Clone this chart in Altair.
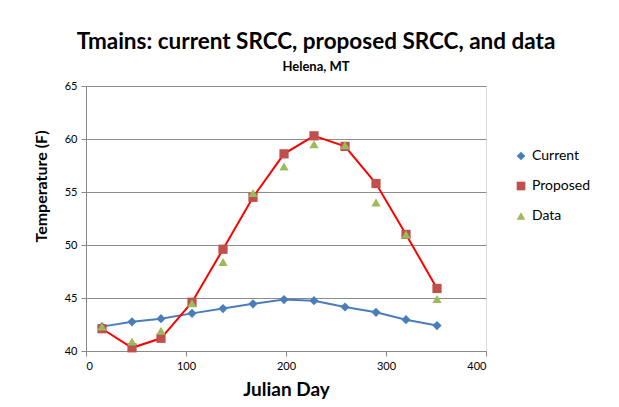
import altair as alt
import pandas as pd

days = [16, 46, 75, 106, 137, 167, 198, 228, 259, 290, 320, 351]
current = [42.3, 42.75, 43.05, 43.55, 44.0, 44.45, 44.85, 44.75, 44.15, 43.65, 42.95, 42.4]
proposed = [42.1, 40.3, 41.2, 44.6, 49.6, 54.5, 58.6, 60.3, 59.3, 55.8, 51.0, 45.9]
measured = [42.3, 40.9, 41.9, 44.5, 48.4, 54.9, 57.4, 59.5, 59.4, 54.0, 51.0, 44.9]

series_names = ["Current", "Proposed", "Data"]
marker_colors = ["#4A7EBB", "#C0504D", "#9BBB59"]
line_colors = ["#4A7EBB", "#FF0000"]
shapes = ["diamond", "square", "triangle-up"]

rows = []
for name, vals in zip(series_names, [current, proposed, measured]):
    for d, v in zip(days, vals):
        rows.append({"day": d, "temp": v, "series": name})
df = pd.DataFrame(rows)

FONT = "Lato"

x_enc = alt.X("day:Q", scale=alt.Scale(domain=[0, 400], nice=False),
              axis=alt.Axis(values=[0, 100, 200, 300, 400], title="Julian Day",
                            grid=False, titleFontSize=19, titleFont=FONT,
                            titleFontWeight="bold", titlePadding=9,
                            labelFontSize=11, labelFont=FONT, labelColor="#000",
                            domainColor="#888", tickColor="#888", tickSize=5,
                            labelPadding=4, titleColor="#000"))
y_enc = alt.Y("temp:Q", scale=alt.Scale(domain=[40, 65], nice=False, zero=False),
              axis=alt.Axis(values=[40, 45, 50, 55, 60, 65], title="Temperature (F)",
                            grid=True, gridColor="#8C8C8C", gridWidth=1,
                            titleFontSize=16, titleFont=FONT, titleFontWeight="bold",
                            titleX=-45, titleY=100, titleBaseline="middle",
                            titleAlign="center", titleAngle=270, titleColor="#000",
                            labelFontSize=11, labelFont=FONT, labelColor="#000",
                            domainColor="#888", tickColor="#888", tickSize=5,
                            labelPadding=4))

lines = alt.Chart(df).transform_filter(
    alt.FieldOneOfPredicate(field="series", oneOf=["Current", "Proposed"])
).mark_line(strokeWidth=2).encode(
    x=x_enc, y=y_enc,
    stroke=alt.Stroke("series:N", scale=alt.Scale(domain=["Current", "Proposed"], range=line_colors),
                      legend=None),
    detail="series:N",
)

legend_args = dict(title=None, orient="none", legendX=428, legendY=63,
                   labelFontSize=14, labelFont=FONT, labelColor="#000",
                   rowPadding=16, symbolSize=75)

points = alt.Chart(df).mark_point(filled=True, opacity=1, size=85).encode(
    x=x_enc, y=y_enc,
    fill=alt.Fill("series:N", scale=alt.Scale(domain=series_names, range=marker_colors),
                  legend=alt.Legend(symbolStrokeWidth=0, **legend_args)),
    shape=alt.Shape("series:N", scale=alt.Scale(domain=series_names, range=shapes),
                    legend=alt.Legend(**legend_args)),
)

chart = alt.layer(lines, points).resolve_scale(stroke="independent").properties(
    width=400, height=265,
    title=alt.TitleParams(text="Tmains: current SRCC, proposed SRCC, and data",
                          subtitle="Helena, MT", anchor="middle", dx=30,
                          fontSize=22.5, font=FONT, fontWeight="bold", color="#000",
                          subtitleFontSize=13, subtitleFont=FONT, subtitleFontWeight="bold",
                          subtitleColor="#000", subtitlePadding=8, offset=6),
    autosize=alt.AutoSizeParams(type="none"),
    padding={"left": 78, "top": 78, "right": 125, "bottom": 48},
).configure_view(stroke=None).configure(background="white")

chart.save("out.html", embed_options={"renderer": "svg", "actions": False})
